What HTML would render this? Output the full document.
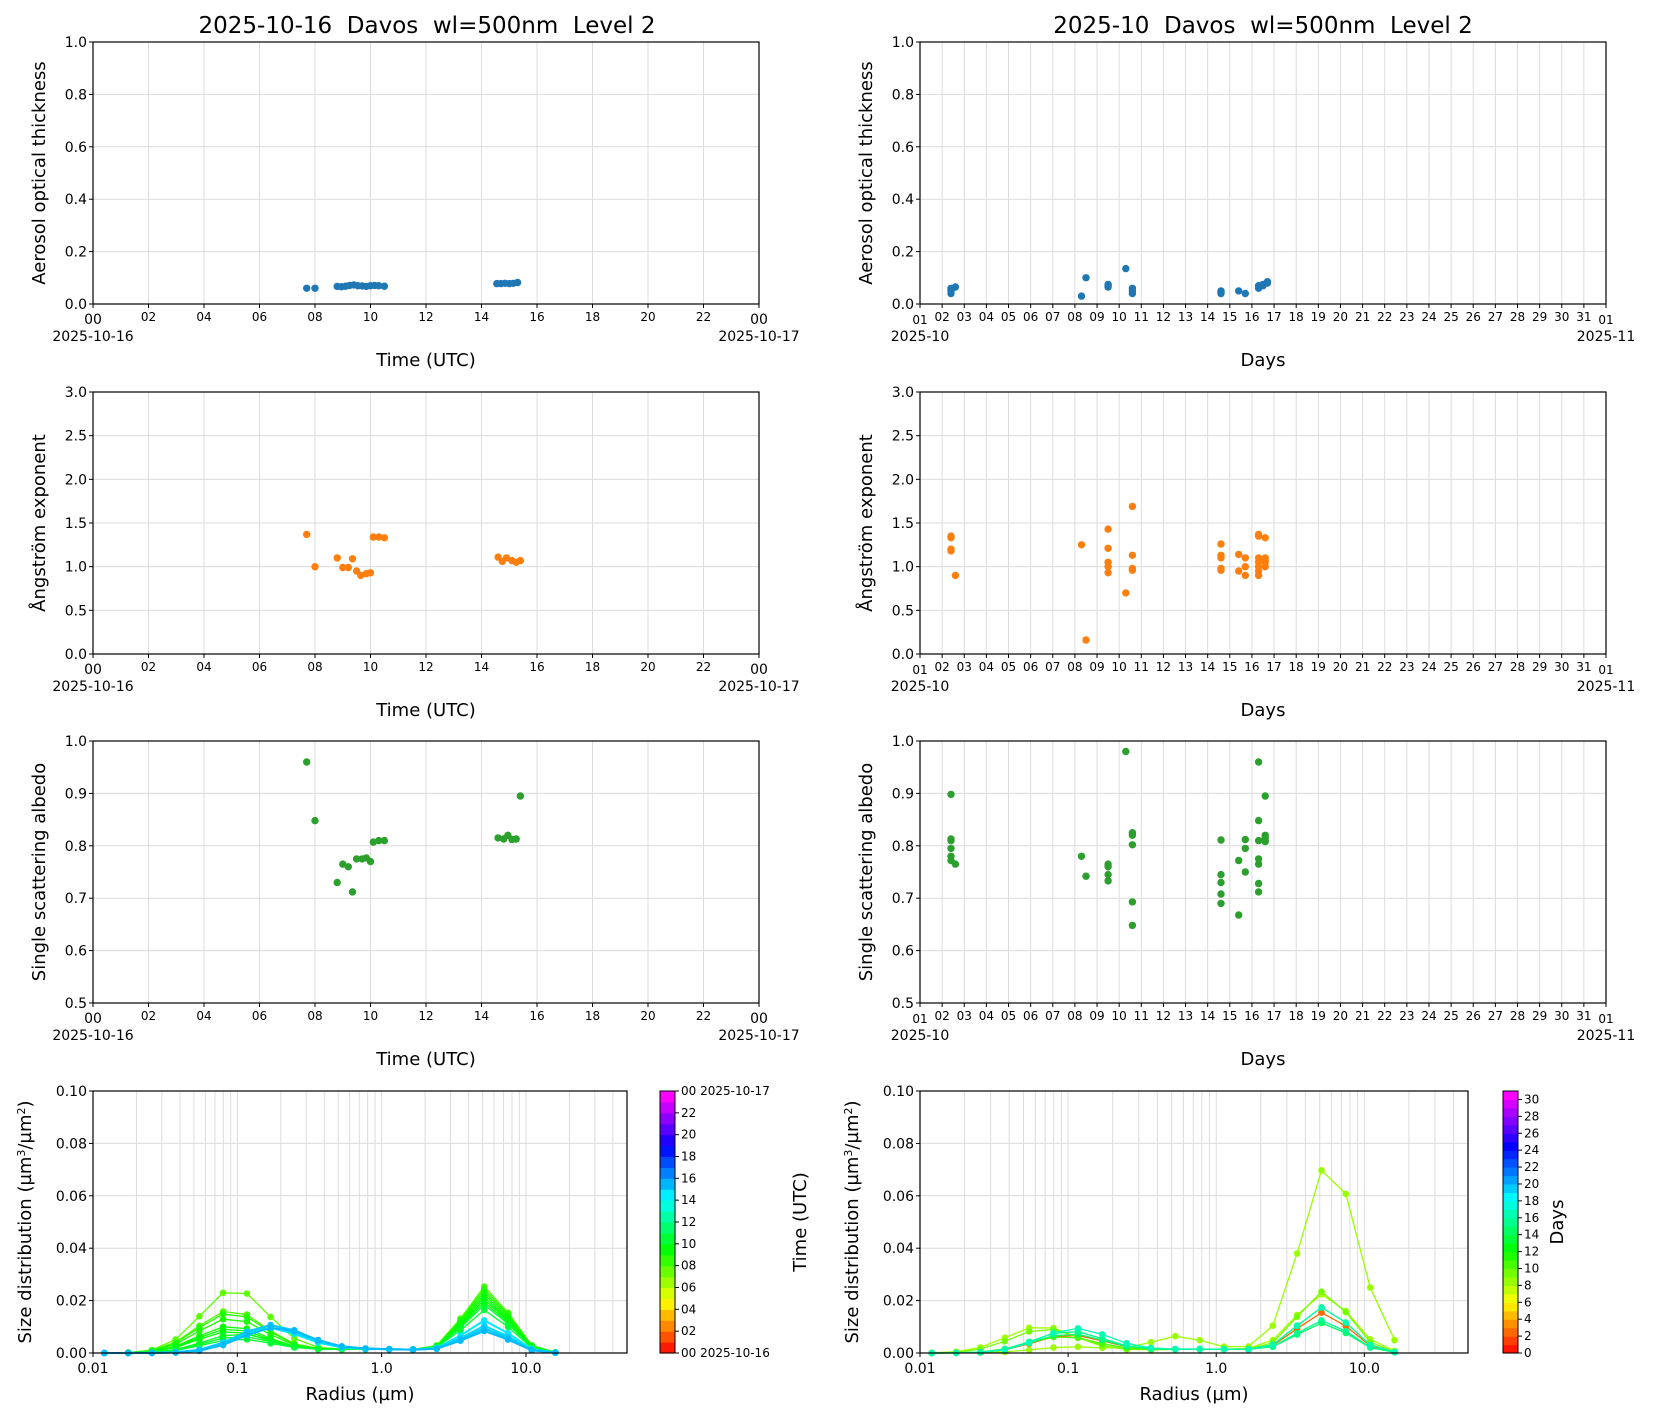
<!DOCTYPE html>
<html><head><meta charset="utf-8"><style>
html,body{margin:0;padding:0;background:#fff;width:1654px;height:1420px;overflow:hidden}
svg text{font-family:"DejaVu Sans","Liberation Sans",sans-serif;fill:#000}
</style></head><body>
<svg id="s" width="1654" height="1420" xmlns="http://www.w3.org/2000/svg"></svg>
<script>
const S=document.getElementById('s');let H='';
function t(x,y,s,sz,anc,rot){H+=`<text x="${x}" y="${y}" font-size="${sz}" text-anchor="${anc||'middle'}"${rot?` transform="rotate(-90 ${x} ${y})"`:''}>${s}</text>`;}
function l(x1,y1,x2,y2,c,w){H+=`<line x1="${x1}" y1="${y1}" x2="${x2}" y2="${y2}" stroke="${c}" stroke-width="${w||1}"/>`;}
function c(x,y,col,r){H+=`<circle cx="${x.toFixed(1)}" cy="${y.toFixed(1)}" r="${r||3.7}" fill="${col}"/>`;}
function hue(f){return `hsl(${(f*305).toFixed(0)},100%,50%)`;}
const rows=[[42,304],[392,654],[741,1003]];
const ylim=[[0,1,0.2,1],[0,3,0.5,1],[0.5,1,0.1,1]];
const ylabs=['Aerosol optical thickness','Ångström exponent','Single scattering albedo'];
const cols=['#1f77b4','#ff7f0e','#2ca02c'];
const L={x0:93,x1:759},R={x0:920,x1:1606};
function panel(P,row,left,data){
 const [y0,y1]=rows[row];const [ya,yb,ys]=ylim[row];
 const xa=left?0:1,xb=left?24:32;
 const X=v=>P.x0+(v-xa)/(xb-xa)*(P.x1-P.x0),Y=v=>y1-(v-ya)/(yb-ya)*(y1-y0);
 const step=left?2:1;
 for(let v=xa;v<=xb;v+=step){l(X(v),y0,X(v),y1,'#dcdcdc');}
 for(let v=ya;v<=yb+1e-9;v+=ys){l(P.x0,Y(v),P.x1,Y(v),'#dcdcdc');
  l(P.x0-4,Y(v),P.x0,Y(v),'#000');t(P.x0-6,Y(v)+5,v.toFixed(1),14,'end');}
 for(let v=xa;v<=xb;v+=step){l(X(v),y1,X(v),y1+4,'#000');
  let lab=left?String(v%24).padStart(2,'0'):String(v===32?1:v).padStart(2,'0');
  const end=(v===xa||v===xb);
  t(X(v),y1+(end?20:17),lab,left?(end?14:12):12);
  if(end)t(X(v),y1+37,left?(v===xa?'2025-10-16':'2025-10-17'):(v===xa?'2025-10':'2025-11'),14);}
 H+=`<rect x="${P.x0}" y="${y0}" width="${P.x1-P.x0}" height="${y1-y0}" fill="none" stroke="#000" stroke-width="1.2"/>`;
 t((P.x0+P.x1)/2,y1+62,left?'Time (UTC)':'Days',18);
 t(P.x0-48,(y0+y1)/2,ylabs[row],18,'middle',1);
 data.forEach(p=>c(X(p[0]),Y(p[1]),cols[row]));
}
const aodL=[[7.7,.06],[8.0,.06],[8.8,.067],[8.95,.066],[9.1,.068],[9.25,.071],[9.4,.073],[9.55,.07],[9.7,.069],[9.85,.067],[10.0,.07],[10.15,.071],[10.3,.07],[10.5,.068],[14.55,.078],[14.7,.078],[14.85,.079],[15.0,.078],[15.15,.079],[15.3,.082]];
const angL=[[7.7,1.37],[8,1.0],[8.8,1.1],[9.0,.99],[9.2,.99],[9.35,1.09],[9.5,.95],[9.65,.9],[9.85,.92],[10.0,.93],[10.1,1.34],[10.3,1.34],[10.5,1.33],[14.6,1.11],[14.75,1.06],[14.9,1.1],[15.1,1.07],[15.25,1.05],[15.4,1.07]];
const ssaL=[[7.7,.96],[8,.848],[8.8,.73],[9.0,.765],[9.2,.76],[9.35,.712],[9.5,.775],[9.7,.775],[9.85,.777],[10.0,.77],[10.1,.807],[10.3,.81],[10.5,.81],[14.6,.815],[14.8,.813],[14.95,.82],[15.1,.812],[15.25,.813],[15.4,.895]];
const pts=(d,vs)=>vs.map(v=>[d,v]);
const aodR=[...pts(2.4,[.04,.05,.055,.06]),...pts(2.6,[.065]),...pts(8.3,[.03]),...pts(8.5,[.1]),...pts(9.5,[.065,.07,.075]),...pts(10.3,[.135]),...pts(10.6,[.04,.05,.06]),...pts(14.6,[.04,.045,.05]),...pts(15.4,[.05]),...pts(15.7,[.04]),...pts(16.3,[.06,.065,.07]),...pts(16.5,[.07,.075]),...pts(16.7,[.08,.085])];
const angR=[...pts(2.4,[1.35,1.33,1.2,1.18]),...pts(2.6,[.9]),...pts(8.3,[1.25]),...pts(8.5,[.16]),...pts(9.5,[1.43,1.21,1.05,1,.93]),...pts(10.3,[.7]),...pts(10.6,[1.69,1.13,.98,.96]),...pts(14.6,[1.26,1.13,1.1,.98,.96]),...pts(15.4,[1.14,.95]),...pts(15.7,[1.1,1.0,.9]),...pts(16.3,[1.37,1.35,1.1,1.05,1,.95,.9]),...pts(16.6,[1.33,1.1,1.07,1.05,1])];
const ssaR=[...pts(2.4,[.898,.813,.81,.795,.78,.772]),...pts(2.6,[.765]),...pts(8.3,[.78]),...pts(8.5,[.742]),...pts(9.5,[.765,.76,.745,.733]),...pts(10.3,[.98]),...pts(10.6,[.825,.82,.802,.693,.648]),...pts(14.6,[.811,.745,.73,.708,.69]),...pts(15.4,[.772,.668]),...pts(15.7,[.812,.795,.75]),...pts(16.3,[.96,.848,.81,.775,.765,.728,.712]),...pts(16.6,[.895,.82,.815,.81,.808])];
panel(L,0,1,aodL);panel(L,1,1,angL);panel(L,2,1,ssaL);
panel(R,0,0,aodR);panel(R,1,0,angR);panel(R,2,0,ssaR);
t(427,33,'2025-10-16&#160; Davos&#160; wl=500nm&#160; Level 2',23);
t(1263,33,'2025-10&#160; Davos&#160; wl=500nm&#160; Level 2',23);
const radii=[];for(let i=0;i<20;i++)radii.push(0.012*Math.pow(16/0.012,i/19));
function sd(P,curves,cb){
 const y0=1091,y1=1353,dec=(P.x1-P.x0)/3.7;
 const X=r=>P.x0+(Math.log10(r)+2)*dec,Y=v=>y1-v/0.1*(y1-y0);
 for(let d=-2;d<2;d++)for(let k=1;k<10;k++){const r=k*Math.pow(10,d);if(X(r)<=P.x1)l(X(r),y0,X(r),y1,'#dcdcdc');}
 for(let v=0;v<=0.1001;v+=0.02){l(P.x0,Y(v),P.x1,Y(v),'#dcdcdc');l(P.x0-4,Y(v),P.x0,Y(v),'#000');t(P.x0-6,Y(v)+5,v.toFixed(2),14,'end');}
 [[0.01,'0.01'],[0.1,'0.1'],[1,'1.0'],[10,'10.0']].forEach(([r,s])=>{l(X(r),y1,X(r),y1+4,'#000');t(X(r),y1+20,s,14);});
 curves.forEach(cv=>{const [f,rf,cc,rc,sc,ex,w]=cv.p;
  const vals=radii.map(r=>{let v=f*Math.exp(-Math.pow(Math.log(r/rf),2)/(2*0.28))+cc*Math.exp(-Math.pow(Math.log(r/rc),2)/(2*sc))+0.0015*Math.exp(-Math.pow(Math.log(r/0.8),2)/3);if(ex)v+=ex*Math.exp(-Math.pow(Math.log(r/0.55),2)/0.3);return v;});
  H+=`<polyline fill="none" stroke="${cv.col}" stroke-width="${w||1.3}" points="${radii.map((r,i)=>X(r).toFixed(1)+','+Y(vals[i]).toFixed(1)).join(' ')}"/>`;
  radii.forEach((r,i)=>c(X(r),Y(vals[i]),cv.col,3.3));});
 H+=`<rect x="${P.x0}" y="${y0}" width="${P.x1-P.x0}" height="${y1-y0}" fill="none" stroke="#000" stroke-width="1.2"/>`;
 t((P.x0+P.x1)/2,1400,'Radius (µm)',18);
 t(P.x0-62,(y0+y1)/2,'Size distribution (µm<tspan baseline-shift="super" font-size="11">3</tspan>/µm<tspan baseline-shift="super" font-size="11">2</tspan>)',18,'middle',1);
 const {x,n,labs,name,nx}=cb;const h=(y1-y0)/n;
 for(let i=0;i<n;i++)H+=`<rect x="${x}" y="${(y1-(i+1)*h).toFixed(2)}" width="15" height="${(h+0.6).toFixed(2)}" fill="${hue((i+0.5)/n)}"/>`;
 H+=`<rect x="${x}" y="${y0}" width="15" height="${y1-y0}" fill="none" stroke="#000"/>`;
 labs.forEach(([v,s])=>{const yy=y1-v/n*(y1-y0);l(x+15,yy,x+19,yy,'#000');t(x+21,yy+4,s,12,'start');});
 t(nx,(y0+y1)/2,name,18,'middle',1);
}
const SL={x0:93,x1:627},SR={x0:920,x1:1468};
const cl=[];
const lp=[[7.7,[.024,.095,.02,5.3,.12]],[8.0,[.016,.09,.025,5.3,.12]],[8.8,[.015,.09,.024,5.3,.12]],[9.0,[.013,.09,.023,5.3,.12]],[9.2,[.01,.09,.022,5.3,.12]],[9.4,[.009,.09,.021,5.3,.12]],[9.6,[.008,.09,.02,5.3,.12]],[9.8,[.007,.1,.019,5.3,.12]],[10.1,[.006,.1,.018,5.3,.12]],[10.4,[.005,.1,.016,5.3,.12]],[14.6,[.009,.16,.012,5.3,.12]],[14.9,[.009,.17,.01,5.3,.12]],[15.2,[.01,.17,.009,5.3,.12]],[15.4,[.009,.18,.008,5.3,.12]]];
lp.forEach(([h,p])=>cl.push({col:hue(h/24),p:[...p,0,h>14?2:1.3]}));
sd(SL,cl,{x:660,n:24,labs:[[0,'00 2025-10-16'],[2,'02'],[4,'04'],[6,'06'],[8,'08'],[10,'10'],[12,'12'],[14,'14'],[16,'16'],[18,'18'],[20,'20'],[22,'22'],[24,'00 2025-10-17']],name:'Time (UTC)',nx:806});
const rp=[[2.4,[.0065,.1,.015,5.3,.15,0]],[8.5,[.002,.1,.072,5.8,.19,.005]],[8.3,[.01,.065,.022,5.3,.18,0]],[9.5,[.009,.07,.023,5.3,.15,0]],[10.5,[.006,.09,.017,5.3,.15,0]],[14.6,[.007,.1,.011,5.3,.15,0]],[15.5,[.008,.1,.012,5.3,.15,0]],[16.5,[.009,.11,.017,5.3,.15,0]]];
const cr=rp.map(([d,p])=>({col:hue(d/31),p:[...p,1.3]}));
const lr=[];for(let v=0;v<=30;v+=2)lr.push([v,String(v)]);
sd(SR,cr,{x:1503,n:31,labs:lr,name:'Days',nx:1563});
S.innerHTML=H;
</script>
</body></html>
